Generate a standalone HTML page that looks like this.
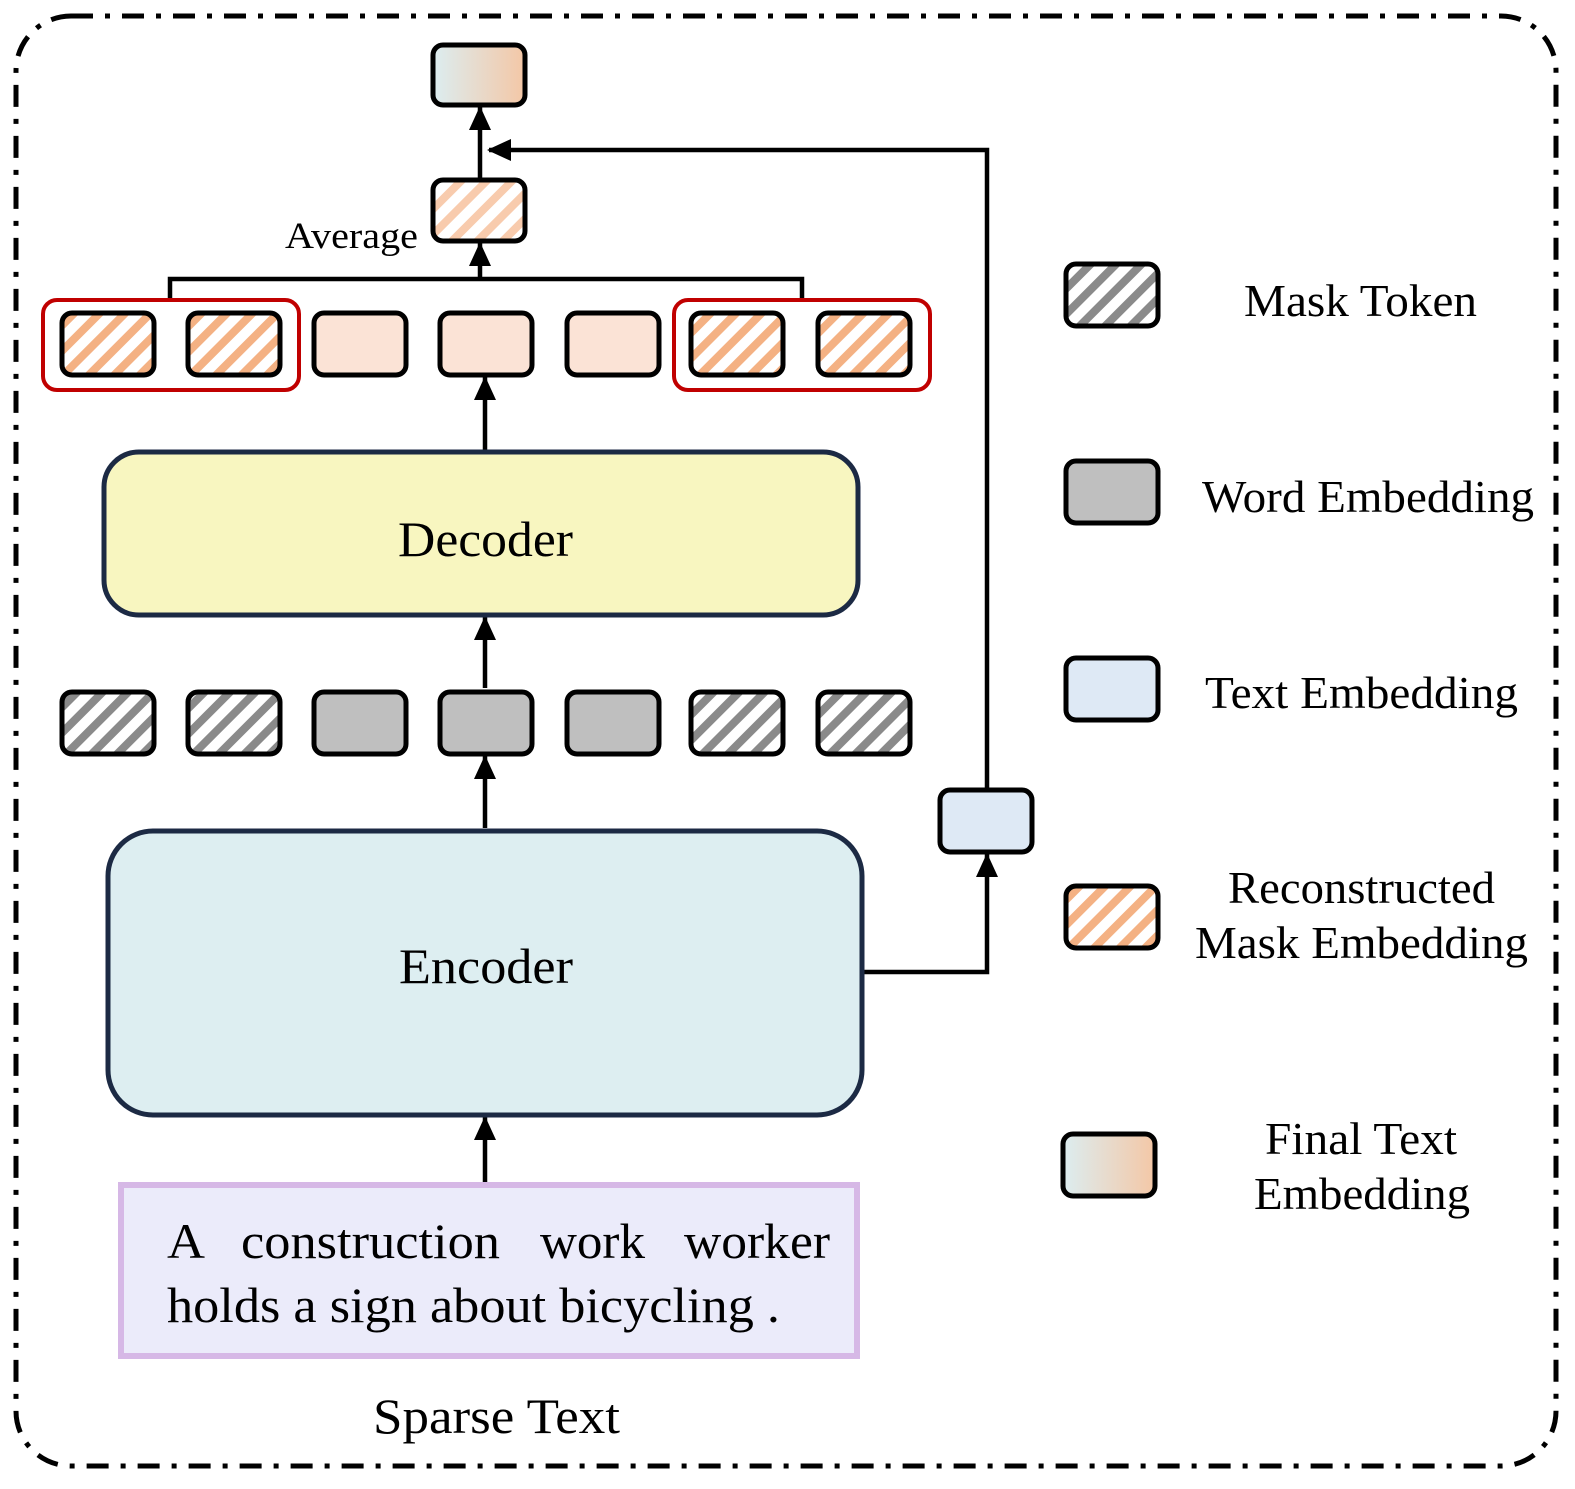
<!DOCTYPE html>
<html><head><meta charset="utf-8"><style>html,body{margin:0;padding:0;background:#fff}svg{display:block}</style></head>
<body>
<svg width="1575" height="1489" viewBox="0 0 1575 1489" xmlns="http://www.w3.org/2000/svg" font-family="'Liberation Serif', serif">
<defs>
<pattern id="pg" patternUnits="userSpaceOnUse" width="18" height="18" patternTransform="rotate(45)">
<rect width="18" height="18" fill="#fff"/><rect width="8" height="18" fill="#8a8a8a"/></pattern>
<pattern id="po" patternUnits="userSpaceOnUse" width="18" height="18" patternTransform="rotate(45)">
<rect width="18" height="18" fill="#fff"/><rect width="8" height="18" fill="#f4b183"/></pattern>
<pattern id="pl" patternUnits="userSpaceOnUse" width="18" height="18" patternTransform="rotate(45)">
<rect width="18" height="18" fill="#fff"/><rect width="8" height="18" fill="#f8cbad"/></pattern>
<linearGradient id="gr" x1="0" x2="1" y1="0" y2="0"><stop offset="0" stop-color="#dcedf0"/><stop offset="1" stop-color="#f4c7a6"/></linearGradient>
</defs>
<rect x="16" y="16" width="1540" height="1450" rx="55" fill="none" stroke="#000" stroke-width="5" stroke-dasharray="22,12,5,12"/>
<g stroke="#000" stroke-width="4.5" fill="none">
<path d="M480,178 V107"/><path d="M480,279 V243"/>
<path d="M170,300 V279 H802 V300"/>
<path d="M987,790 V150 H489"/>
<path d="M485,450 V377"/><path d="M485,688 V617"/><path d="M485,828 V756"/><path d="M485,1183 V1117"/>
<path d="M862,972 H987 V854"/>
</g>
<g fill="#000">
<path d="M469,130 L480,106 L491,130 z"/>
<path d="M469,266 L480,242 L491,266 z"/>
<path d="M487,150 L511,139 L511,161 z"/>
<path d="M474,400 L485,376 L496,400 z"/>
<path d="M474,640 L485,616 L496,640 z"/>
<path d="M474,779 L485,755 L496,779 z"/>
<path d="M474,1140 L485,1116 L496,1140 z"/>
<path d="M976,877 L987,853 L998,877 z"/>
</g>
<rect x="43" y="300" width="256" height="90" rx="14" fill="none" stroke="#c00000" stroke-width="4"/>
<rect x="674" y="300" width="256" height="90" rx="14" fill="none" stroke="#c00000" stroke-width="4"/>
<g stroke="#000" stroke-width="5">
<rect x="433" y="45" width="92" height="60" rx="10" fill="url(#gr)"/>
<rect x="433" y="180" width="92" height="61" rx="10" fill="url(#pl)"/>
<rect x="62" y="313" width="92" height="62" rx="10" fill="url(#po)"/>
<rect x="188" y="313" width="92" height="62" rx="10" fill="url(#po)"/>
<rect x="314" y="313" width="92" height="62" rx="10" fill="#fbe3d6"/>
<rect x="440" y="313" width="92" height="62" rx="10" fill="#fbe3d6"/>
<rect x="567" y="313" width="92" height="62" rx="10" fill="#fbe3d6"/>
<rect x="691" y="313" width="92" height="62" rx="10" fill="url(#po)"/>
<rect x="818" y="313" width="92" height="62" rx="10" fill="url(#po)"/>
<rect x="62" y="692" width="92" height="62" rx="10" fill="url(#pg)"/>
<rect x="188" y="692" width="92" height="62" rx="10" fill="url(#pg)"/>
<rect x="314" y="692" width="92" height="62" rx="10" fill="#bfbfbf"/>
<rect x="440" y="692" width="92" height="62" rx="10" fill="#bfbfbf"/>
<rect x="567" y="692" width="92" height="62" rx="10" fill="#bfbfbf"/>
<rect x="691" y="692" width="92" height="62" rx="10" fill="url(#pg)"/>
<rect x="818" y="692" width="92" height="62" rx="10" fill="url(#pg)"/>
<rect x="940" y="790" width="92" height="62" rx="10" fill="#dee9f5"/>
<rect x="1066" y="264" width="92" height="62" rx="10" fill="url(#pg)"/>
<rect x="1066" y="461" width="92" height="62" rx="10" fill="#bfbfbf"/>
<rect x="1066" y="658" width="92" height="62" rx="10" fill="#dee9f5"/>
<rect x="1066" y="886" width="92" height="62" rx="10" fill="url(#po)"/>
<rect x="1063" y="1134" width="92" height="62" rx="10" fill="url(#gr)"/>
</g>
<rect x="104" y="452" width="754" height="163" rx="35" fill="#f8f6c0" stroke="#1c2a44" stroke-width="5"/>
<rect x="108" y="831" width="754" height="284" rx="45" fill="#ddeef1" stroke="#1c2a44" stroke-width="5"/>
<rect x="121" y="1185" width="736" height="171" fill="#ebebfa" stroke="#d6b8e6" stroke-width="6"/>
<g fill="#000" font-size="50">
<text x="398" y="556" textLength="175" lengthAdjust="spacingAndGlyphs">Decoder</text>
<text x="399" y="983" textLength="174" lengthAdjust="spacingAndGlyphs">Encoder</text>
<text x="285" y="248" font-size="37" textLength="133" lengthAdjust="spacingAndGlyphs">Average</text>
<text x="167" y="1258" textLength="38" lengthAdjust="spacingAndGlyphs">A</text>
<text x="241" y="1258" textLength="259" lengthAdjust="spacingAndGlyphs">construction</text>
<text x="540" y="1258" textLength="105" lengthAdjust="spacingAndGlyphs">work</text>
<text x="684" y="1258" textLength="146" lengthAdjust="spacingAndGlyphs">worker</text>
<text x="167" y="1322" textLength="613" lengthAdjust="spacingAndGlyphs">holds a sign about bicycling .</text>
<text x="373" y="1433" textLength="247" lengthAdjust="spacingAndGlyphs">Sparse Text</text>
<g font-size="46">
<text x="1244" y="316" textLength="233" lengthAdjust="spacingAndGlyphs">Mask Token</text>
<text x="1202" y="512" textLength="332" lengthAdjust="spacingAndGlyphs">Word Embedding</text>
<text x="1205" y="708" textLength="313" lengthAdjust="spacingAndGlyphs">Text Embedding</text>
<text x="1228" y="903" textLength="267" lengthAdjust="spacingAndGlyphs">Reconstructed</text>
<text x="1195" y="958" textLength="333" lengthAdjust="spacingAndGlyphs">Mask Embedding</text>
<text x="1265" y="1154" textLength="192" lengthAdjust="spacingAndGlyphs">Final Text</text>
<text x="1254" y="1209" textLength="216" lengthAdjust="spacingAndGlyphs">Embedding</text>
</g>
</g>
</svg>
</body></html>
